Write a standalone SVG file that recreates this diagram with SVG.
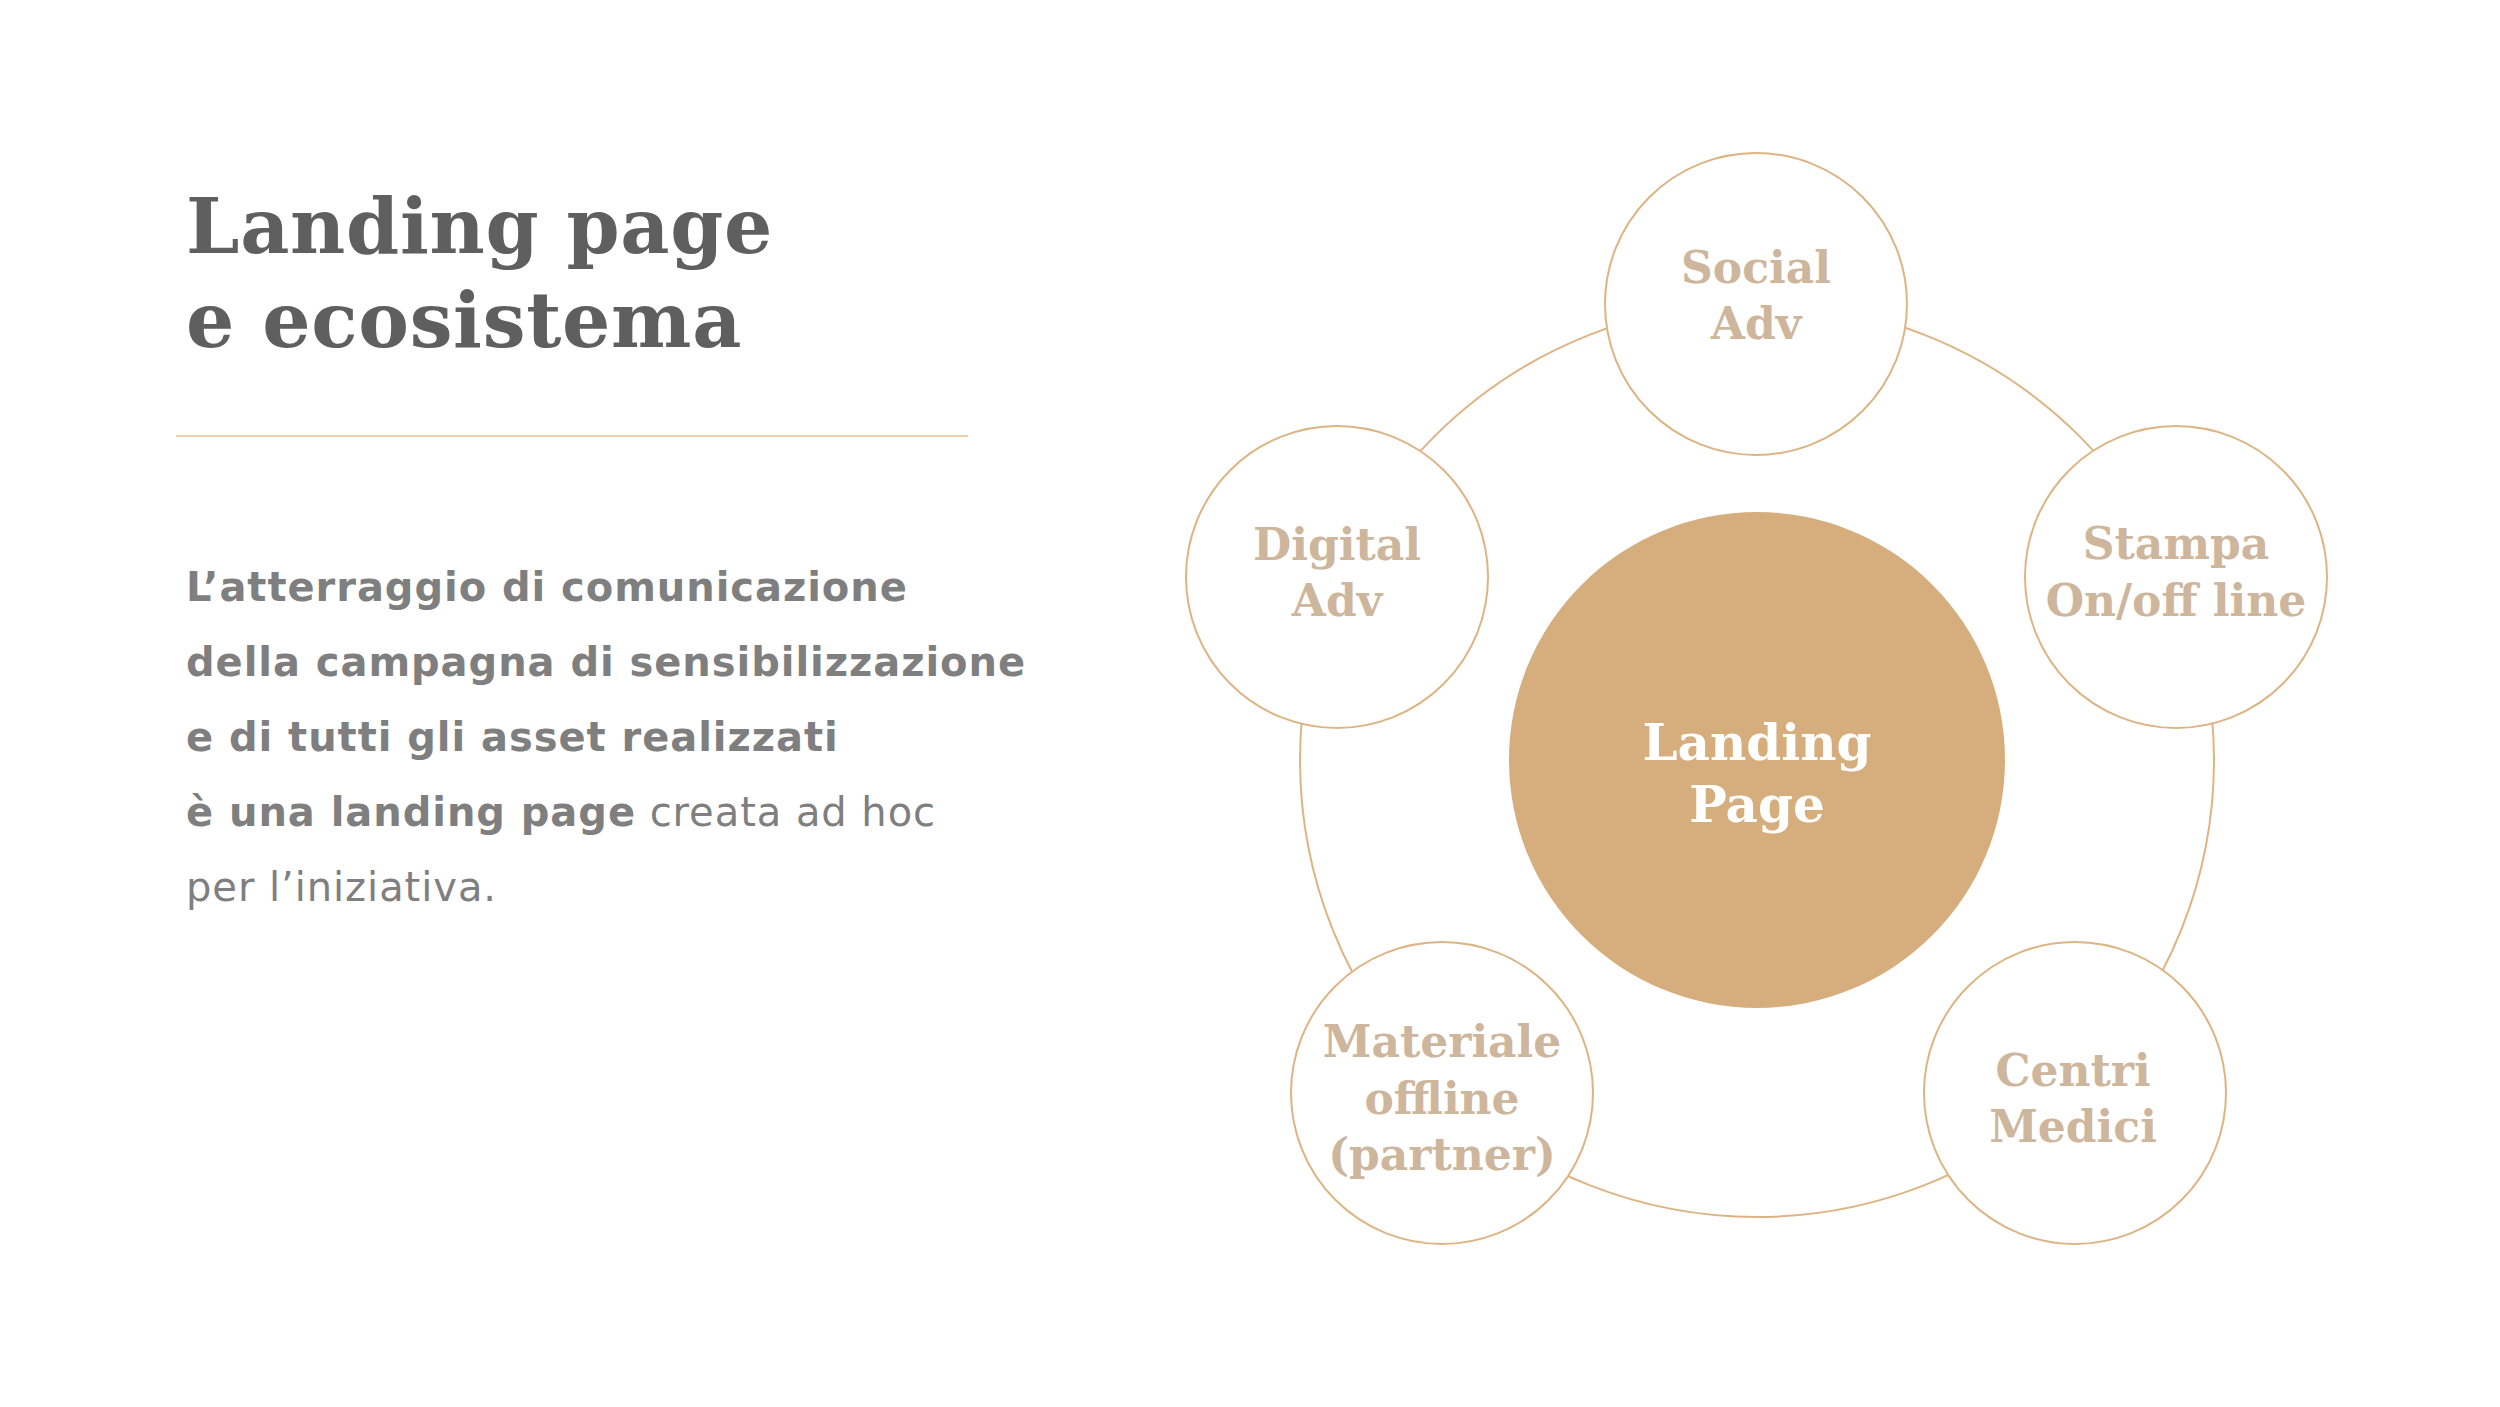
<svg xmlns="http://www.w3.org/2000/svg" width="2500" height="1407" viewBox="0 0 2500 1407">
<style>
.title{font-family:"DejaVu Serif","Liberation Serif",serif;font-weight:bold;font-size:76px;letter-spacing:0.7px;fill:#5F5F5F}
.body{font-family:"DejaVu Sans","Verdana",sans-serif;font-size:40px;letter-spacing:0.95px;fill:#7F7F7F}
.b{font-weight:bold}
.sat{fill:#FFFFFF;stroke:#DDB483;stroke-width:2}
.lbl{font-family:"DejaVu Serif","Liberation Serif",serif;font-weight:bold;font-size:44px;fill:#CDB69C;text-anchor:middle}
.ctr{font-family:"DejaVu Serif","Liberation Serif",serif;font-weight:bold;font-size:50px;fill:#FFFFFF;text-anchor:middle}
</style>
<rect width="2500" height="1407" fill="#FFFFFF"/>
<g id="title">
<text class="title" x="186" y="253">Landing page</text>
<text class="title" x="186" y="347">e ecosistema</text>
</g>
<line x1="176" y1="436" x2="968" y2="436" stroke="#EDCFAE" stroke-width="2"/>
<g id="body-text" class="body">
<text x="186" y="601" class="b">L’atterraggio di comunicazione</text>
<text x="186" y="676" class="b">della campagna di sensibilizzazione</text>
<text x="186" y="751" class="b">e di tutti gli asset realizzati</text>
<text x="186" y="826"><tspan class="b">è una landing page</tspan> creata ad hoc</text>
<text x="186" y="901">per l’iniziativa.</text>
</g>
<g id="connectors">
<circle cx="1757" cy="760" r="457" fill="none" stroke="#DDB483" stroke-width="2"/>
</g>
<g id="node-landing">
<circle cx="1757" cy="760" r="248" fill="#D6AE7E"/>
<text class="ctr" x="1757" y="760">Landing</text>
<text class="ctr" x="1757" y="822">Page</text>
</g>
<g id="node-social">
<circle class="sat" cx="1756" cy="304" r="151"/>
<text class="lbl" x="1756" y="283">Social</text>
<text class="lbl" x="1756" y="339">Adv</text>
</g>
<g id="node-digital">
<circle class="sat" cx="1337" cy="577" r="151"/>
<text class="lbl" x="1337" y="560">Digital</text>
<text class="lbl" x="1337" y="616">Adv</text>
</g>
<g id="node-stampa">
<circle class="sat" cx="2176" cy="577" r="151"/>
<text class="lbl" x="2176" y="559">Stampa</text>
<text class="lbl" x="2176" y="616">On/off line</text>
</g>
<g id="node-materiale">
<circle class="sat" cx="1442" cy="1093" r="151"/>
<text class="lbl" x="1442" y="1057">Materiale</text>
<text class="lbl" x="1442" y="1114">offline</text>
<text class="lbl" x="1442" y="1170">(partner)</text>
</g>
<g id="node-centri">
<circle class="sat" cx="2075" cy="1093" r="151"/>
<text class="lbl" x="2073" y="1086">Centri</text>
<text class="lbl" x="2073" y="1142">Medici</text>
</g>
</svg>
